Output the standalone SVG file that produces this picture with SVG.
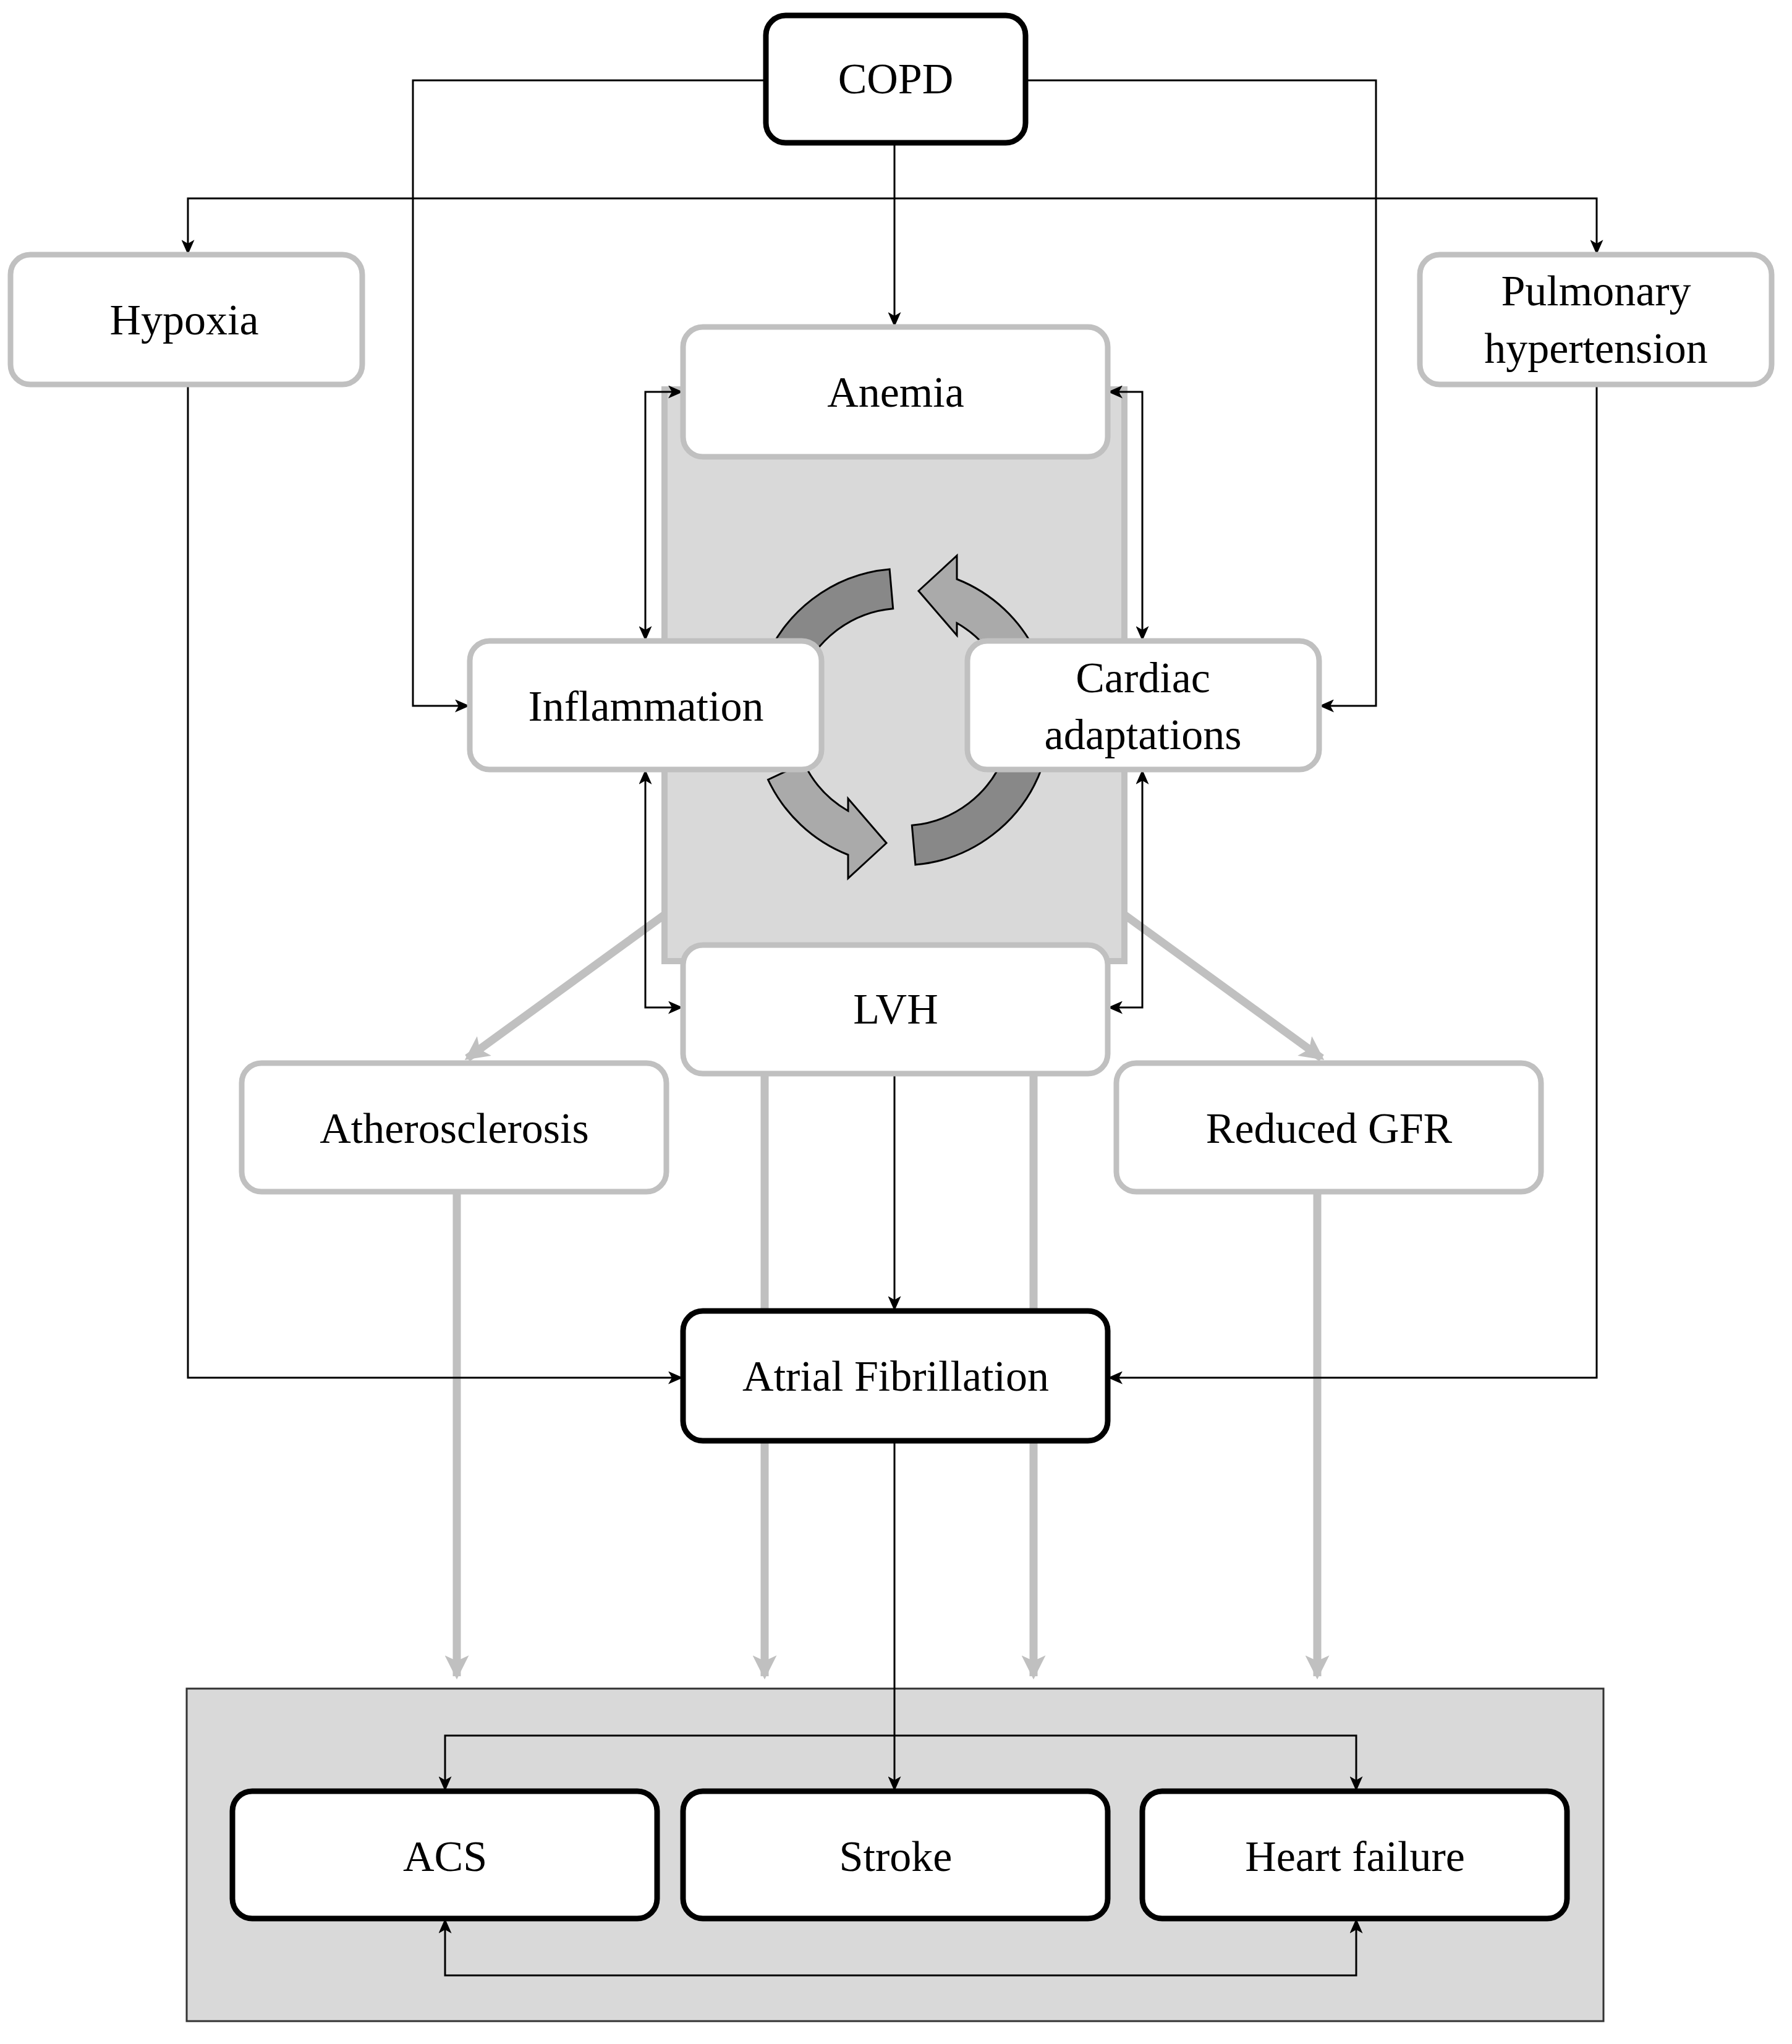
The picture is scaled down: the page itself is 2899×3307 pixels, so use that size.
<svg xmlns="http://www.w3.org/2000/svg" width="2899" height="3307" viewBox="0 0 2899 3307">
<style>
text{font-family:"Liberation Serif","DejaVu Serif",serif;font-size:70px;fill:#000;text-anchor:middle;dominant-baseline:central}
.g{fill:#fff;stroke:#c0c0c0;stroke-width:9}
.b{fill:#fff;stroke:#000;stroke-width:9}
.c{fill:none;stroke:#000;stroke-width:3}
.t{fill:none;stroke:#c0c0c0;stroke-width:13}
</style>
<defs>
<marker id="a" viewBox="0 0 8 7" refX="8" refY="3.5" markerWidth="8" markerHeight="7" orient="auto-start-reverse"><path d="M0,0 L8,3.5 L0,7 L2,3.5 Z" fill="#000"/></marker>
<marker id="ga" viewBox="0 0 3 3" refX="2.6" refY="1.5" markerWidth="3" markerHeight="3" orient="auto"><path d="M0,0 L3,1.5 L0,3 L0.7,1.5 Z" fill="#c0c0c0"/></marker>
</defs>
<rect x="1075" y="630" width="744" height="925" fill="#d9d9d9" stroke="#c0c0c0" stroke-width="10"/>
<rect x="302" y="2732" width="2292" height="538" fill="#d9d9d9" stroke="#333" stroke-width="3"/>
<g id="cycle" stroke="#000" stroke-width="3">
<path d="M1234.5,1077.9 A240,240 0 0 1 1439.1,920.9 L1444.7,984.7 A176,176 0 0 0 1294.6,1099.8 Z" fill="#888"/>
<path d="M1685.5,1242.1 A240,240 0 0 1 1480.9,1399.1 L1475.3,1335.3 A176,176 0 0 0 1625.4,1220.2 Z" fill="#888"/>
<path d="M1548,937 A240,240 0 0 1 1677.5,1058.6 L1619.5,1085.6 A176,176 0 0 0 1548,1008 L1548,1028 L1486,956 L1548,899 Z" fill="#aaa"/>
<path d="M1372,1383 A240,240 0 0 1 1242.5,1261.4 L1300.5,1234.4 A176,176 0 0 0 1372,1312 L1372,1292 L1434,1364 L1372,1421 Z" fill="#aaa"/>
</g>
<g id="connectors">
<path class="t" d="M1075,1480 L756,1712" marker-end="url(#ga)"/>
<path class="t" d="M1819,1480 L2138,1712" marker-end="url(#ga)"/>
<path class="t" d="M739,1928 V2712" marker-end="url(#ga)"/>
<path class="t" d="M1237,1737 V2712" marker-end="url(#ga)"/>
<path class="t" d="M1672,1737 V2712" marker-end="url(#ga)"/>
<path class="t" d="M2131,1928 V2712" marker-end="url(#ga)"/>
<path class="c" d="M1239,130 H668 V1142 H760" marker-end="url(#a)"/>
<path class="c" d="M1659,130 H2226 V1142 H2134" marker-end="url(#a)"/>
<path class="c" d="M1447,231 V529" marker-end="url(#a)"/>
<path class="c" d="M1447,321 H304 V412" marker-end="url(#a)"/>
<path class="c" d="M1447,321 H2583 V412" marker-end="url(#a)"/>
<path class="c" d="M1105,634 H1044 V1037" marker-start="url(#a)" marker-end="url(#a)"/>
<path class="c" d="M1792,634 H1848 V1037" marker-start="url(#a)" marker-end="url(#a)"/>
<path class="c" d="M1044,1245 V1630 H1105" marker-start="url(#a)" marker-end="url(#a)"/>
<path class="c" d="M1848,1245 V1630 H1792" marker-start="url(#a)" marker-end="url(#a)"/>
<path class="c" d="M1447,1737 V2121" marker-end="url(#a)"/>
<path class="c" d="M304,622 V2229 H1105" marker-end="url(#a)"/>
<path class="c" d="M2583,622 V2229 H1792" marker-end="url(#a)"/>
<path class="c" d="M1447,2331 V2898" marker-end="url(#a)"/>
<path class="c" d="M720,2898 V2808 H2194 V2898" marker-start="url(#a)" marker-end="url(#a)"/>
<path class="c" d="M720,3104 V3196 H2194 V3104" marker-start="url(#a)" marker-end="url(#a)"/>
</g>
<g id="copd"><rect class="b" x="1239" y="25" width="420" height="206" rx="32"/><text x="1449" y="127">COPD</text></g>
<g id="hypoxia"><rect class="g" x="17" y="412" width="569" height="210" rx="32"/><text x="298" y="517">Hypoxia</text></g>
<g id="pulm"><rect class="g" x="2297" y="412" width="569" height="210" rx="32"/><text x="2582" y="470">Pulmonary</text><text x="2582" y="563">hypertension</text></g>
<g id="anemia"><rect class="g" x="1105" y="529" width="687" height="210" rx="32"/><text x="1449" y="634">Anemia</text></g>
<g id="inflammation"><rect class="g" x="760" y="1037" width="569" height="208" rx="32"/><text x="1045" y="1142">Inflammation</text></g>
<g id="cardiac"><rect class="g" x="1565" y="1037" width="569" height="208" rx="32"/><text x="1849" y="1096">Cardiac</text><text x="1849" y="1188">adaptations</text></g>
<g id="lvh"><rect class="g" x="1105" y="1529" width="687" height="208" rx="32"/><text x="1449" y="1632">LVH</text></g>
<g id="athero"><rect class="g" x="391" y="1720" width="687" height="208" rx="32"/><text x="735" y="1825">Atherosclerosis</text></g>
<g id="gfr"><rect class="g" x="1806" y="1720" width="687" height="208" rx="32"/><text x="2150" y="1825">Reduced GFR</text></g>
<g id="af"><rect class="b" x="1105" y="2121" width="687" height="210" rx="32"/><text x="1449" y="2226">Atrial Fibrillation</text></g>
<g id="acs"><rect class="b" x="376" y="2898" width="687" height="206" rx="32"/><text x="720" y="3003">ACS</text></g>
<g id="stroke"><rect class="b" x="1105" y="2898" width="687" height="206" rx="32"/><text x="1449" y="3003">Stroke</text></g>
<g id="hf"><rect class="b" x="1848" y="2898" width="687" height="206" rx="32"/><text x="2192" y="3003">Heart failure</text></g>
</svg>
